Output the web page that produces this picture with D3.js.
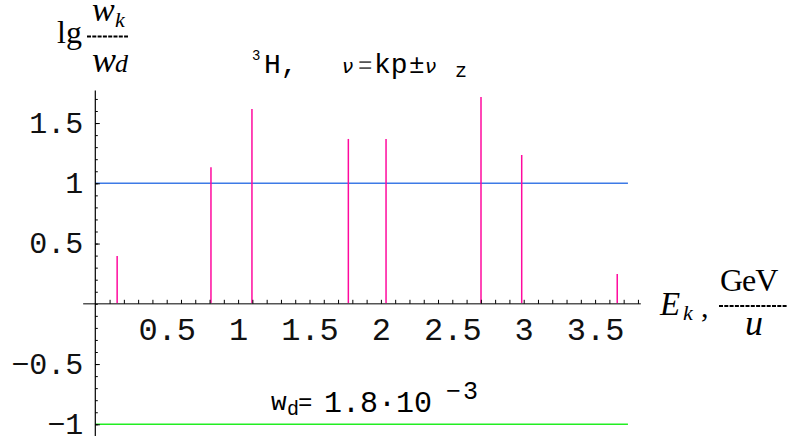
<!DOCTYPE html>
<html><head><meta charset="utf-8">
<script src="https://cdn.jsdelivr.net/npm/d3@7"></script>
<style>body{margin:0;background:#fff}svg{display:block}</style>
</head><body><svg id="c" width="787" height="436"></svg>
<script>
// ---- data ----
const energies = [0.153, 0.81, 1.097, 1.772, 2.036, 2.701, 2.986, 3.655];
const lgRatio  = [0.397, 1.133, 1.617, 1.368, 1.368, 1.716, 1.235, 0.247];
const refLevels = [1, -1];
const refColors = ["#3d7ae6", "#22ee22"];
const xTickValues = [0.5, 1, 1.5, 2, 2.5, 3, 3.5];
const xTickLabels = ["0.5", "1", "1.5", "2", "2.5", "3", "3.5"];
const yTickValues = [-1, -0.5, 0.5, 1, 1.5];
const yTickLabels = ["\u22121", "\u22120.5", "0.5", "1", "1.5"];

const svg = d3.select("#c");
const x = d3.scaleLinear().domain([0, 3.8]).range([95.3, 95.3 + 3.8 * 142.8]);
const y = d3.scaleLinear().domain([-1, 1]).range([424.3, 183.3]);

const mono = "'Liberation Mono', 'Courier New', monospace";
const serif = "'Liberation Serif', 'Times New Roman', serif";

// reference lines
svg.selectAll("line.ref").data(refLevels).enter().append("line")
  .attr("x1", x(0)).attr("x2", x(3.73))
  .attr("y1", d => y(d)).attr("y2", d => y(d))
  .attr("stroke", (d, i) => refColors[i]).attr("stroke-width", 1.5);

// bars
svg.selectAll("line.bar").data(energies).enter().append("line")
  .attr("x1", d => x(d)).attr("x2", d => x(d))
  .attr("y1", y(0)).attr("y2", (d, i) => y(lgRatio[i]))
  .attr("stroke", "#ff0a9e").attr("stroke-width", 1.5);

// x axis
svg.append("line").attr("x1", x(-0.085)).attr("x2", x(3.82))
  .attr("y1", y(0)).attr("y2", y(0)).attr("stroke", "#555").attr("stroke-width", 1.4);
const xMinor = d3.range(1, 39).map(i => i / 10);
const gxm = svg.append("g").attr("transform", `translate(0,${y(0)})`)
  .call(d3.axisBottom(x).tickValues(xMinor).tickSizeInner(-4).tickSizeOuter(0).tickFormat(""));
gxm.select(".domain").remove();
gxm.selectAll(".tick line").attr("stroke", "#000");
const gx = svg.append("g").attr("transform", `translate(0,${y(0)})`)
  .call(d3.axisBottom(x).tickValues(xTickValues).tickSize(0).tickFormat((d, i) => xTickLabels[i]));
gx.select(".domain").remove();
gx.selectAll(".tick text").attr("y", 36).attr("dy", 0)
  .attr("font-family", mono).attr("font-size", 32).attr("fill", "#111");

// y axis
svg.append("line").attr("x1", x(0)).attr("x2", x(0))
  .attr("y1", y(1.77)).attr("y2", 436).attr("stroke", "#000").attr("stroke-width", 1.2);
const yMinor = d3.range(-10, 18).map(i => i / 10);
const gym = svg.append("g").attr("transform", `translate(${x(0)},0)`)
  .call(d3.axisLeft(y).tickValues(yMinor).tickSizeInner(-2.5).tickSizeOuter(0).tickFormat(""));
gym.select(".domain").remove();
gym.selectAll(".tick line").attr("stroke", "#000");
const gy = svg.append("g").attr("transform", `translate(${x(0)},0)`)
  .call(d3.axisLeft(y).tickValues(yTickValues).tickSizeInner(-4.5).tickSizeOuter(0).tickPadding(12)
    .tickFormat((d, i) => yTickLabels[i]));
gy.select(".domain").remove();
gy.selectAll(".tick line").attr("stroke", "#000");
gy.selectAll(".tick text").attr("dy", "0.31em")
  .attr("font-family", mono).attr("font-size", 30).attr("fill", "#111");

// y label: lg w_k / w_d
const yl = svg.append("g");
yl.append("text").attr("x", 57).attr("y", 43).attr("font-family", serif).attr("font-size", 32).text("lg");
yl.append("text").attr("x", 92).attr("y", 21).attr("font-family", serif).attr("font-style", "italic").attr("font-size", 34).text("w");
yl.append("text").attr("x", 115).attr("y", 27).attr("font-family", serif).attr("font-style", "italic").attr("font-size", 22).text("k");
yl.append("line").attr("x1", 87).attr("x2", 128).attr("y1", 36.5).attr("y2", 36.5)
  .attr("stroke", "#000").attr("stroke-width", 1.8).attr("stroke-dasharray", "4,1.3");
yl.append("text").attr("x", 92).attr("y", 72).attr("font-family", serif).attr("font-style", "italic").attr("font-size", 36).text("w");
yl.append("text").attr("x", 115).attr("y", 72).attr("font-family", serif).attr("font-style", "italic").attr("font-size", 26).text("d");

// title
const t = svg.append("g");
t.append("text").attr("x", 252).attr("y", 60).attr("font-family", mono).attr("font-size", 14).text("3");
t.append("text").attr("x", 264).attr("y", 73).attr("font-family", mono).attr("font-size", 28).text("H,");
t.append("text").attr("x", 342).attr("y", 73).attr("font-family", "'DejaVu Sans', sans-serif").attr("font-style", "italic").attr("font-size", 20).text("\u03bd");
t.append("text").attr("x", 358).attr("y", 73).attr("font-family", mono).attr("font-size", 24).attr("fill", "#555").text("=");
t.append("text").attr("x", 374).attr("y", 73).attr("font-family", mono).attr("font-size", 28).text("kp");
t.append("text").attr("x", 409).attr("y", 73).attr("font-family", mono).attr("font-size", 26).text("\u00b1");
t.append("text").attr("x", 425).attr("y", 73).attr("font-family", "'DejaVu Sans', sans-serif").attr("font-style", "italic").attr("font-size", 20).text("\u03bd");
t.append("text").attr("x", 455).attr("y", 77).attr("font-family", mono).attr("font-size", 20).text("z");

// x label: E_k , GeV / u
const xl = svg.append("g");
xl.append("text").attr("x", 660).attr("y", 315).attr("font-family", serif).attr("font-style", "italic").attr("font-size", 33).text("E");
xl.append("text").attr("x", 683).attr("y", 320).attr("font-family", serif).attr("font-style", "italic").attr("font-size", 22).text("k");
xl.append("text").attr("x", 701).attr("y", 317).attr("font-family", serif).attr("font-size", 30).text(",");
xl.append("text").attr("x", 720).attr("y", 291).attr("font-family", serif).attr("font-size", 32).attr("letter-spacing", -1).text("GeV");
xl.append("line").attr("x1", 719).attr("x2", 787).attr("y1", 306).attr("y2", 306)
  .attr("stroke", "#000").attr("stroke-width", 1.8).attr("stroke-dasharray", "4,1.3");
xl.append("text").attr("x", 745).attr("y", 335).attr("font-family", serif).attr("font-style", "italic").attr("font-size", 36).text("u");

// annotation w_d = 1.8·10^-3
const a = svg.append("g");
a.append("text").attr("x", 271).attr("y", 410).attr("font-family", mono).attr("font-size", 26).text("w");
a.append("text").attr("x", 287).attr("y", 415).attr("font-family", mono).attr("font-size", 20).text("d");
a.append("text").attr("x", 298).attr("y", 410).attr("font-family", mono).attr("font-size", 24).text("=");
a.append("text").attr("x", 324).attr("y", 412).attr("font-family", mono).attr("font-size", 30).text("1.8\u00b710");
a.append("text").attr("x", 446).attr("y", 399).attr("font-family", mono).attr("font-size", 25).attr("letter-spacing", 2).text("\u22123");
</script></body></html>
